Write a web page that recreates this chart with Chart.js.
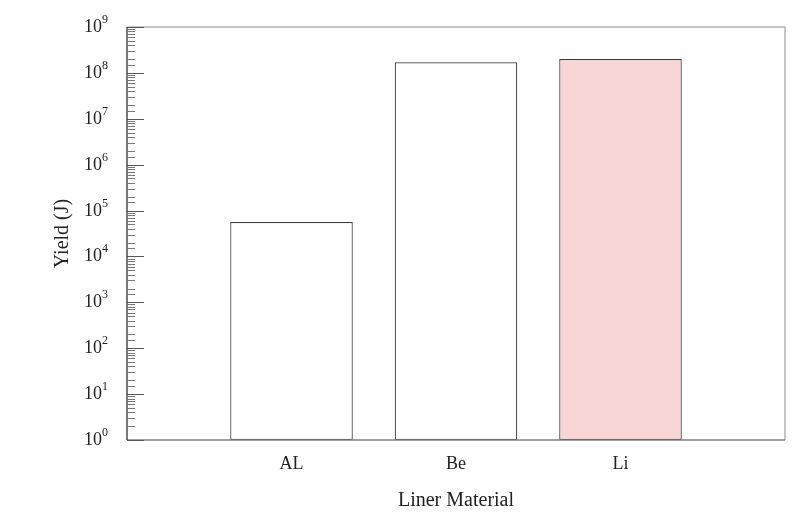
<!DOCTYPE html>
<html>
<head>
<meta charset="utf-8">
<script src="https://cdn.jsdelivr.net/npm/chart.js@4/dist/chart.umd.min.js"></script>
<style>
  html, body { margin: 0; padding: 0; background: #fff; }
  #wrap { width: 798px; height: 527px; }
</style>
</head>
<body>
<div id="wrap"><canvas id="chart"></canvas></div>
<script>
const materials = ['AL', 'Be', 'Li']
const yields = [5.6e4, 1.7e8, 2.0e8]
const fills = ['#ffffff', '#ffffff', '#f9d6d6']
const decades = [0, 1, 2, 3, 4, 5, 6, 7, 8, 9]

const serif = '"Liberation Serif", "Times New Roman", serif'

// pad the category axis with an empty slot on each side
const labels = ['', ...materials, '']
const values = [null, ...yields, null]
const colors = ['#fff', ...fills, '#fff']

const frame = {
  id: 'frame',
  afterDatasetsDraw (chart) {
    const { ctx, chartArea: a, scales: { y } } = chart
    ctx.save()
    ctx.lineWidth = 1.5
    ctx.strokeStyle = '#b4b4b4'
    ctx.beginPath()
    ctx.moveTo(a.left, a.top)
    ctx.lineTo(a.right, a.top)
    ctx.lineTo(a.right, a.bottom)
    ctx.stroke()
    ctx.strokeStyle = '#808080'
    ctx.beginPath()
    ctx.moveTo(a.left, a.bottom)
    ctx.lineTo(a.right, a.bottom)
    ctx.stroke()
    ctx.strokeStyle = '#4a4a4a'
    ctx.beginPath()
    ctx.moveTo(a.left, a.top)
    ctx.lineTo(a.left, a.bottom)
    ctx.stroke()

    // minor ticks, inward
    ctx.lineWidth = 1
    ctx.strokeStyle = '#7a7a7a'
    y.ticks.forEach((t) => {
      const p = Math.round(y.getPixelForValue(t.value)) + 0.5
      if (p < a.top || p > a.bottom) return
      ctx.beginPath()
      ctx.moveTo(a.left, p)
      ctx.lineTo(a.left + 8, p)
      ctx.stroke()
    })

    // major ticks and 10^n labels
    ctx.textBaseline = 'middle'
    decades.forEach((d) => {
      const v = Math.pow(10, d)
      const p = Math.round(y.getPixelForValue(v)) + 0.5
      ctx.strokeStyle = '#555'
      ctx.beginPath()
      ctx.moveTo(a.left, p)
      ctx.lineTo(a.left + 17, p)
      ctx.stroke()

      ctx.fillStyle = '#222'
      ctx.font = '12px ' + serif
      const exp = String(d)
      const ew = ctx.measureText(exp).width
      ctx.textAlign = 'left'
      ctx.fillText(exp, 108 - ew, p - 8)
      ctx.font = '18px ' + serif
      ctx.textAlign = 'right'
      ctx.fillText('10', 108 - ew, p)
    })
    ctx.restore()
  }
}

new Chart(document.getElementById('chart'), {
  type: 'bar',
  data: {
    labels,
    datasets: [{
      data: values,
      backgroundColor: colors,
      borderColor: '#3c3c3c',
      borderWidth: 1.2,
      borderSkipped: false,
      barPercentage: 0.745,
      categoryPercentage: 1
    }]
  },
  options: {
    responsive: true,
    maintainAspectRatio: false,
    animation: false,
    layout: { padding: { top: 27, right: 11, left: 0, bottom: 0 } },
    plugins: { legend: { display: false }, tooltip: { enabled: false } },
    scales: {
      x: {
        offset: false,
        grid: { display: false, drawTicks: false },
        border: { display: false },
        ticks: { color: '#222', font: { family: serif, size: 18 }, padding: 13, autoSkip: false, maxRotation: 0 },
        title: { display: true, text: 'Liner Material', color: '#222', font: { family: serif, size: 20 }, padding: { top: 0, bottom: 14 } },
        afterFit: (s) => { s.height = 87 }
      },
      y: {
        type: 'logarithmic',
        min: 1,
        max: 1e9,
        grid: { display: false, drawTicks: false },
        border: { display: false },
        ticks: { display: false, autoSkip: false },
        title: { display: true, text: 'Yield (J)', color: '#222', font: { family: serif, size: 20 }, padding: { top: 51, bottom: 0 } },
        afterFit: (s) => { s.width = 127 }
      }
    }
  },
  plugins: [frame]
})
</script>
</body>
</html>
